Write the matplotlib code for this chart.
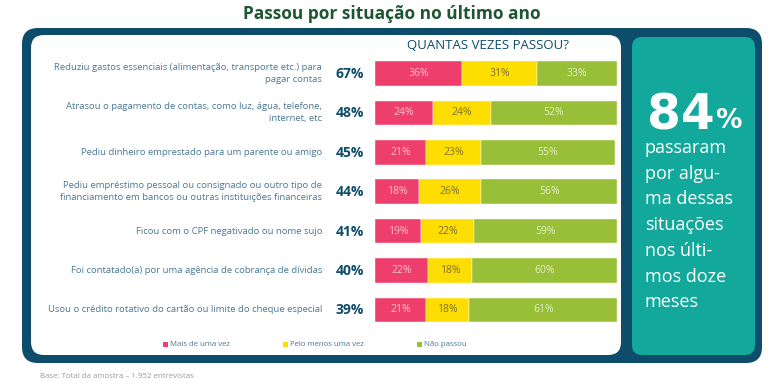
import matplotlib
matplotlib.use("Agg")
import matplotlib.pyplot as plt
from matplotlib.patches import FancyBboxPatch, Rectangle
import numpy as np

# ---------------- data ----------------
categories = [
    "Reduziu gastos essenciais (alimentação, transporte etc.) para\npagar contas",
    "Atrasou o pagamento de contas, como luz, água, telefone,\ninternet, etc",
    "Pediu dinheiro emprestado para um parente ou amigo",
    "Pediu empréstimo pessoal ou consignado ou outro tipo de\nfinanciamento em bancos ou outras instituições financeiras",
    "Ficou com o CPF negativado ou nome sujo",
    "Foi contatado(a) por uma agência de cobrança de dívidas",
    "Usou o crédito rotativo do cartão ou limite do cheque especial",
]
total_pct = [67, 48, 45, 44, 41, 40, 39]
mais_de_uma_vez = [36, 24, 21, 18, 19, 22, 21]
pelo_menos_uma_vez = [31, 24, 23, 26, 22, 18, 18]
nao_passou = [33, 52, 55, 56, 59, 60, 61]
series_names = ["Mais de uma vez", "Pelo menos uma vez", "Não passou"]
highlight_value = "84"
highlight_lines = ["passaram", "por algu-", "ma dessas", "situações",
                   "nos últi-", "mos doze", "meses"]
title = "Passou por situação no último ano"
header = "QUANTAS VEZES PASSOU?"
footer = "Base: Total da amostra – 1.952 entrevistas"

# ---------------- style ----------------
PINK = "#EE3F6C"
YELLOW = "#FEDD00"
GREEN = "#98BF37"
NAVY = "#0D4D6B"
TEAL = "#12A99C"
TITLE_GREEN = "#1E5631"
LABEL_COL = "#4A7895"
FONT = ["Open Sans", "DejaVu Sans"]

W, H = 780, 392
fig = plt.figure(figsize=(W / 100, H / 100), dpi=100)
fig.patch.set_facecolor("white")

bg = fig.add_axes([0, 0, 1, 1])
bg.set_xlim(0, W)
bg.set_ylim(H, 0)
bg.axis("off")

# frames
bg.add_patch(FancyBboxPatch((22 + 16, 28 + 16), 740 - 32, 335 - 32,
                            boxstyle="round,pad=16", fc=NAVY, ec="none"))
bg.add_patch(FancyBboxPatch((31 + 13, 35 + 13), 590 - 26, 320 - 26,
                            boxstyle="round,pad=13", fc="white", ec="none"))
bg.add_patch(FancyBboxPatch((632 + 10, 37 + 10), 123 - 20, 318 - 20,
                            boxstyle="round,pad=10", fc=TEAL, ec="none"))

# title
bg.text(392, 14, title, ha="center", va="center", fontsize=12.5,
        fontweight="bold", color=TITLE_GREEN, family=FONT)
# header
bg.text(488, 45, header, ha="center", va="center", fontsize=9.5,
        color=NAVY, family=FONT)

# ---------------- bars ----------------
top_px, step_px = 73.5, 39.4
n = len(categories)
y0 = top_px - step_px / 2
y1 = top_px + step_px * (n - 1) + step_px / 2
bx0, bw = 375, 242
ax = fig.add_axes([bx0 / W, 1 - y1 / H, bw / W, (y1 - y0) / H])
ax.set_xlim(0, 100)
ax.set_ylim(n - 0.5, -0.5)
ax.axis("off")

ypos = np.arange(n)
h = 24.5 / step_px
series = [mais_de_uma_vez, pelo_menos_uma_vez, nao_passou]
cols = [PINK, YELLOW, GREEN]
txtcols = ["#FAC0CF", "#7D7035", "#E3EEC4"]
left = np.zeros(n)
for vals, c, tc in zip(series, cols, txtcols):
    vals = np.array(vals, dtype=float)
    ax.barh(ypos, vals, left=left, height=h, color=c, edgecolor="white",
            linewidth=0.3)
    for yi, (l, v) in enumerate(zip(left, vals)):
        ax.text(l + v / 2, yi, f"{int(v)}%", ha="center", va="center",
                fontsize=7.5, color=tc, family=FONT)
    left += vals

# labels and totals
for i, (cat, tp) in enumerate(zip(categories, total_pct)):
    yc = top_px + step_px * i
    bg.text(322, yc, cat, ha="right", va="center", fontsize=6.8,
            color=LABEL_COL, family=FONT, linespacing=1.45)
    bg.text(350, yc + 0.5, f"{tp}%", ha="center", va="center", fontsize=10,
            fontweight="bold", color=NAVY, family=FONT)

# legend
leg_x = [163, 283, 417]
for lx, name, c in zip(leg_x, series_names, cols):
    bg.add_patch(Rectangle((lx, 342), 4.5, 4.5, fc=c, ec="none"))
    bg.text(lx + 7, 344.5, name, ha="left", va="center", fontsize=5.6,
            color=LABEL_COL, family=FONT)

# footer
bg.text(40, 376, footer, ha="left", va="center", fontsize=5.7,
        color="#9A9A9A", family=FONT)

# highlight box text
bg.text(647, 129, highlight_value, ha="left", va="baseline", fontsize=35,
        fontweight="bold", color="white", family=["DejaVu Sans"])
bg.text(715, 128, "%", ha="left", va="baseline", fontsize=19,
        fontweight="bold", color="white", family=["DejaVu Sans"])
for k, line in enumerate(highlight_lines):
    bg.text(645, 148 + 25.7 * k, line, ha="left", va="center", fontsize=13,
            color="white", family=FONT)

fig.savefig("out.png", dpi=100, facecolor="white")
